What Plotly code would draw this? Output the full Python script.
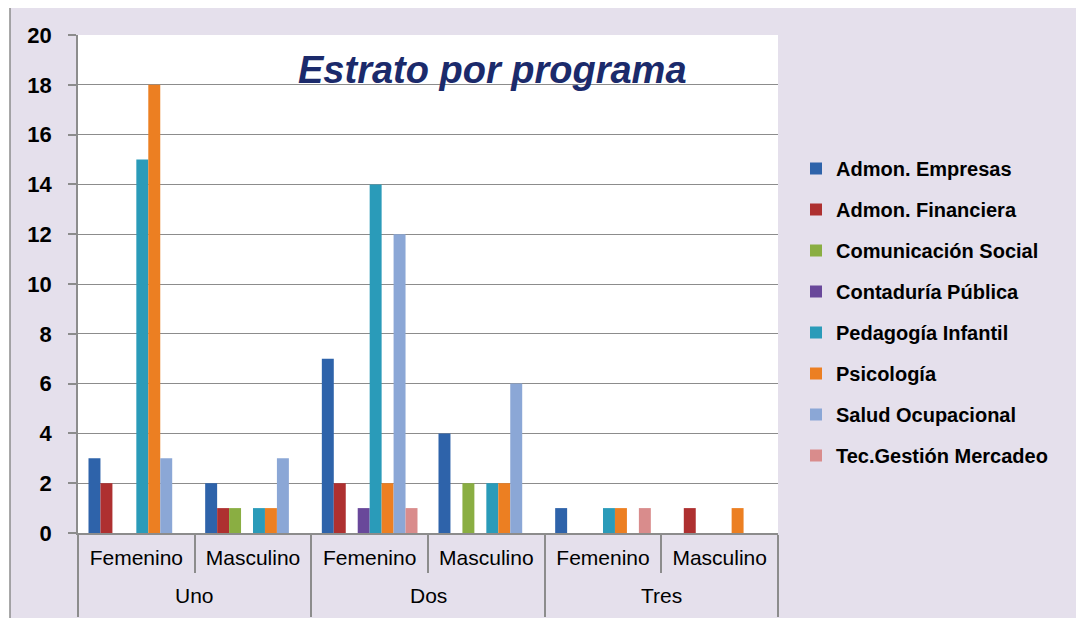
import plotly.graph_objects as go

# categorias: estrato (externa) y genero (interna)
estratos = ['Uno', 'Uno', 'Dos', 'Dos', 'Tres', 'Tres']
generos = ['Femenino', 'Masculino', 'Femenino', 'Masculino', 'Femenino', 'Masculino']

programas = ['Admon. Empresas', 'Admon. Financiera', 'Comunicación Social',
             'Contaduría Pública', 'Pedagogía Infantil', 'Psicología',
             'Salud Ocupacional', 'Tec.Gestión Mercadeo']

admon_empresas = [3, 2, 7, 4, 1, 0]
admon_financiera = [2, 1, 2, 0, 0, 1]
comunicacion_social = [0, 1, 0, 2, 0, 0]
contaduria_publica = [0, 0, 1, 0, 0, 0]
pedagogia_infantil = [15, 1, 14, 2, 1, 0]
psicologia = [18, 1, 2, 2, 1, 1]
salud_ocupacional = [3, 3, 12, 6, 0, 0]
tec_gestion_mercadeo = [0, 0, 1, 0, 1, 0]

valores = [admon_empresas, admon_financiera, comunicacion_social, contaduria_publica,
           pedagogia_infantil, psicologia, salud_ocupacional, tec_gestion_mercadeo]

colores = ['#2E63AA', '#AE3030', '#8AAE42', '#69489A',
           '#2A9BB9', '#EC7F22', '#8BA7D6', '#D98C8C']

FONT = 'Liberation Sans'
OFF = 8  # margen del body de la pagina
W, H = 1084 - OFF, 618 - OFF
L, R, T, B = 78 - OFF, 1084 - 778, 35 - OFF, 618 - 533
pw, ph = W - L - R, H - T - B


# posiciones de pagina -> coordenadas paper
def px_x(p):
    return (p - OFF - L) / pw


def px_y(p):
    return (H - B - (p - OFF)) / ph


# nivel externo: etiquetas en blanco (dos lineas para que los divisores bajen),
# el texto del estrato va como anotacion para poder bajarlo un poco
unicos = list(dict.fromkeys(estratos))
blancos = {e: '<br>' + '\u00a0' * (k + 1) for k, e in enumerate(unicos)}
estratos_lbl = [blancos[e] for e in estratos]

fig = go.Figure()
for i, (nombre, vals) in enumerate(zip(programas, valores)):
    fig.add_trace(go.Bar(x=[estratos_lbl, generos], y=vals, name='<b>' + nombre + '</b>',
                         marker_color=colores[i], marker_line_width=0,
                         legendgroup=str(i)))

for e in unicos:
    idx = [k for k, v in enumerate(estratos) if v == e]
    fig.add_annotation(text=e, x=sum(idx) / len(idx), xref='x', y=px_y(595), yref='paper',
                       xanchor='center', yanchor='middle', showarrow=False,
                       font=dict(family=FONT, size=21, color='black'))

# fondo lila del grafico con borde
fig.add_shape(type='rect', xref='paper', yref='paper', layer='below',
              x0=px_x(10), x1=px_x(1083), y0=px_y(630), y1=px_y(7),
              fillcolor='#E5E0EC', line=dict(color='#8C8C8C', width=1.5))
fig.add_shape(type='rect', xref='paper', yref='paper', layer='below',
              x0=0, x1=1, y0=0, y1=1, fillcolor='white', line_width=0)

fig.add_annotation(text='<b><i>Estrato por programa</i></b>', x=px_x(492), y=px_y(47),
                   xref='paper', yref='paper', showarrow=False,
                   font=dict(family=FONT, size=38, color='#1B2A6B'))

fig.update_layout(
    width=W, height=H,
    margin=dict(l=L, r=R, t=T, b=B, autoexpand=False),
    paper_bgcolor='white', plot_bgcolor='rgba(0,0,0,0)',
    font=dict(family=FONT, color='black'),
    barmode='group', bargap=0.18, bargroupgap=0,
    legend=dict(x=px_x(796), y=px_y(149), xanchor='left', yanchor='top',
                bgcolor='rgba(0,0,0,0)', font=dict(size=20, family=FONT),
                traceorder='grouped', tracegroupgap=12,
                itemwidth=30),
    xaxis=dict(type='multicategory', showline=True, linecolor='#8C8C8C', linewidth=1.5,
               ticks='outside', tickson='boundaries', ticklen=38, tickcolor='#8C8C8C',
               tickwidth=1.5, showdividers=True, dividercolor='#8C8C8C', dividerwidth=1.5,
               tickfont=dict(size=21, family=FONT, color='black'), showgrid=False,
               ticklabelstandoff=5, automargin=False),
    yaxis=dict(range=[0, 20], dtick=2, showgrid=True, gridcolor='#8C8C8C', gridwidth=1.3,
               showline=True, linecolor='#8C8C8C', linewidth=1.5,
               ticks='outside', ticklen=8, tickcolor='#8C8C8C', tickwidth=1.5,
               tickfont=dict(size=22, family=FONT, color='black'),
               ticklabelstandoff=12, zeroline=False, automargin=False),
)
fig.update_yaxes(tickprefix='<b>', ticksuffix='</b>')

fig.write_html('out.html')
